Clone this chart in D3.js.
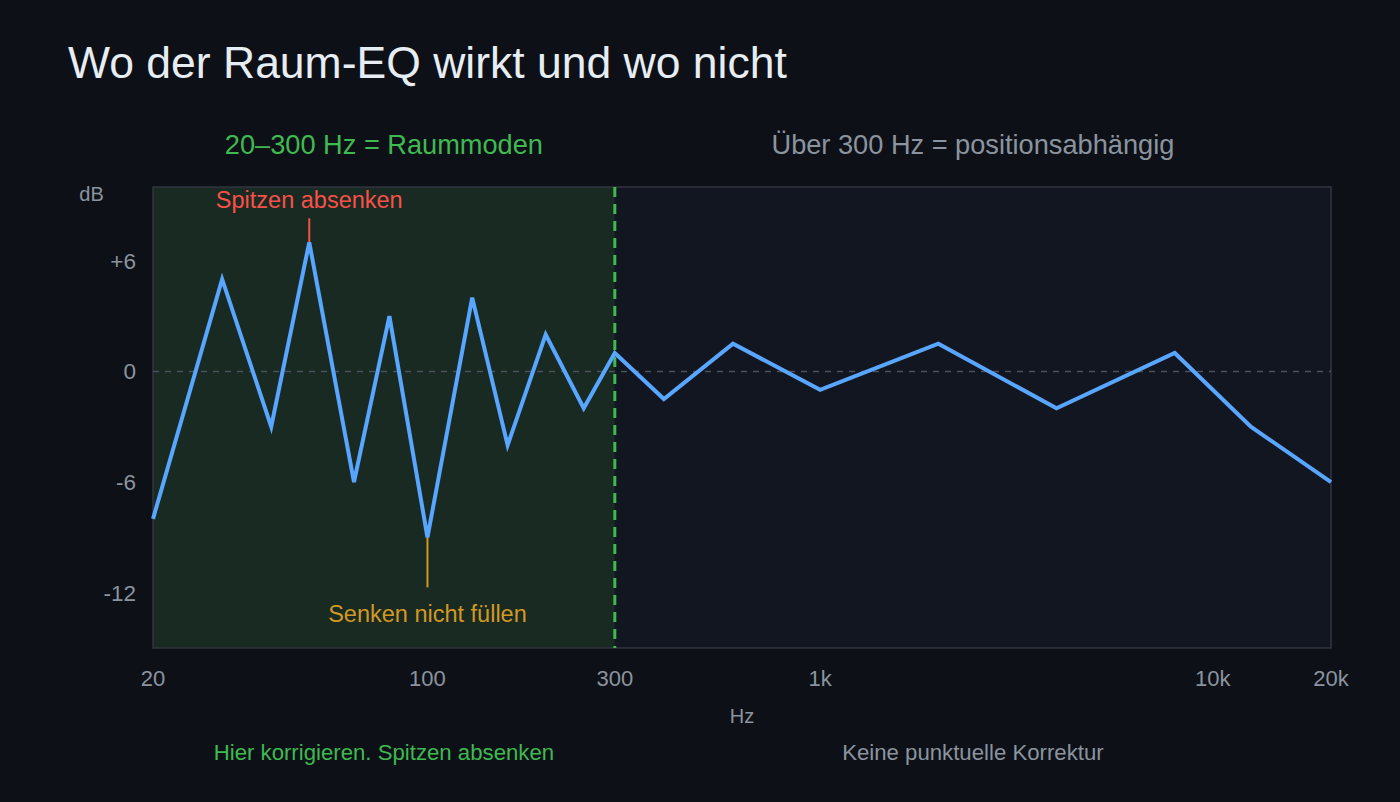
<!DOCTYPE html>
<html><head><meta charset="utf-8">
<script src="https://cdn.jsdelivr.net/npm/d3@7"></script>
<style>
html,body{margin:0;padding:0;background:#0d1017;}
svg{display:block;font-family:"Liberation Sans","DejaVu Sans",Arial,sans-serif;}
</style></head><body>
<svg id="c" width="1400" height="802"></svg>
<script>
const freqs = [20, 30, 40, 50, 65, 80, 100, 130, 160, 200, 250, 300, 400, 600, 1000, 2000, 4000, 8000, 12500, 20000];
const dbValues = [-8, 5, -3, 7, -6, 3, -9, 4, -4, 2, -2, 1, -1.5, 1.5, -1, 1.5, -2, 1, -3, -6];
const xTicks = [20, 100, 300, 1000, 10000, 20000];
const xTickLabels = ["20", "100", "300", "1k", "10k", "20k"];
const yTicks = [6, 0, -6, -12];
const yTickLabels = ["+6", "0", "-6", "-12"];
const splitFreq = 300;
const peakFreq = 50, dipFreq = 100;

const svg = d3.select("#c");
const W = 1400, H = 802;
const m = {l:153, r:1331, t:187, b:648};
const x = d3.scaleLog().domain([20, 20000]).range([m.l, m.r]);
const y = d3.scaleLinear().domain([-15, 10]).range([m.b, m.t]);

svg.append("rect").attr("width",W).attr("height",H).attr("fill","#0d1017");

// plot backgrounds
svg.append("rect").attr("x",x(splitFreq)).attr("y",m.t).attr("width",m.r-x(splitFreq)).attr("height",m.b-m.t).attr("fill","#121620");
svg.append("rect").attr("x",m.l).attr("y",m.t).attr("width",x(splitFreq)-m.l).attr("height",m.b-m.t).attr("fill","#182a22");
svg.append("rect").attr("x",m.l).attr("y",m.t).attr("width",m.r-m.l).attr("height",m.b-m.t)
  .attr("fill","none").attr("stroke","#30363f").attr("stroke-width",1.5);

// zero line
svg.append("line").attr("x1",m.l).attr("x2",m.r).attr("y1",y(0)).attr("y2",y(0))
  .attr("stroke","#4a515b").attr("stroke-width",1.5).attr("stroke-dasharray","6,6");

// split line
svg.append("line").attr("x1",x(splitFreq)).attr("x2",x(splitFreq)).attr("y1",m.t).attr("y2",m.b)
  .attr("stroke","#3fb950").attr("stroke-width",3).attr("stroke-dasharray","10,7");

// annotation ticks
const pi = freqs.indexOf(peakFreq), di = freqs.indexOf(dipFreq);
svg.append("line").attr("x1",x(peakFreq)).attr("x2",x(peakFreq)).attr("y1",y(dbValues[pi])-24).attr("y2",y(dbValues[pi]))
  .attr("stroke","#f85149").attr("stroke-width",2);
svg.append("line").attr("x1",x(dipFreq)).attr("x2",x(dipFreq)).attr("y1",y(dbValues[di])).attr("y2",y(dbValues[di])+50)
  .attr("stroke","#d29922").attr("stroke-width",2);

// line
const data = freqs.map((f,i)=>({f, v: dbValues[i]}));
svg.append("path").datum(data)
  .attr("d", d3.line().x(d=>x(d.f)).y(d=>y(d.v)))
  .attr("fill","none").attr("stroke","#58a6ff").attr("stroke-width",4).attr("stroke-linejoin","miter");

// annotations text
svg.append("text").attr("x",x(peakFreq)).attr("y",208).attr("text-anchor","middle")
  .attr("fill","#f85149").attr("font-size",23.5).text("Spitzen absenken");
svg.append("text").attr("x",x(dipFreq)).attr("y",622).attr("text-anchor","middle")
  .attr("fill","#d29922").attr("font-size",23.5).text("Senken nicht füllen");

// x axis
const gx = svg.append("g");
xTicks.forEach((t,i)=>{
  gx.append("text").attr("x",x(t)).attr("y",686).attr("text-anchor","middle")
    .attr("fill","#8b949e").attr("font-size",22).text(xTickLabels[i]);
});
svg.append("text").attr("x",(m.l+m.r)/2).attr("y",723).attr("text-anchor","middle")
  .attr("fill","#8b949e").attr("font-size",20).text("Hz");

// y axis
yTicks.forEach((t,i)=>{
  svg.append("text").attr("x",136).attr("y",y(t)+8).attr("text-anchor","end")
    .attr("fill","#8b949e").attr("font-size",22.5).text(yTickLabels[i]);
});
svg.append("text").attr("x",91.5).attr("y",201).attr("text-anchor","middle")
  .attr("fill","#8b949e").attr("font-size",20).text("dB");

// title
svg.append("text").attr("x",68).attr("y",78).attr("fill","#e6edf3").attr("font-size",44.5).text("Wo der Raum-EQ wirkt und wo nicht");

// region headers
const leftC = (m.l + x(splitFreq))/2, rightC = (x(splitFreq)+m.r)/2;
svg.append("text").attr("x",leftC).attr("y",154).attr("text-anchor","middle").attr("fill","#3fb950").attr("font-size",27.2).text("20–300 Hz = Raummoden");
svg.append("text").attr("x",rightC).attr("y",154).attr("text-anchor","middle").attr("fill","#8b949e").attr("font-size",27.2).text("Über 300 Hz = positionsabhängig");

svg.append("text").attr("x",leftC).attr("y",760).attr("text-anchor","middle").attr("fill","#3fb950").attr("font-size",22.2).text("Hier korrigieren. Spitzen absenken");
svg.append("text").attr("x",rightC).attr("y",760).attr("text-anchor","middle").attr("fill","#8b949e").attr("font-size",22.2).text("Keine punktuelle Korrektur");
</script>
</body></html>
